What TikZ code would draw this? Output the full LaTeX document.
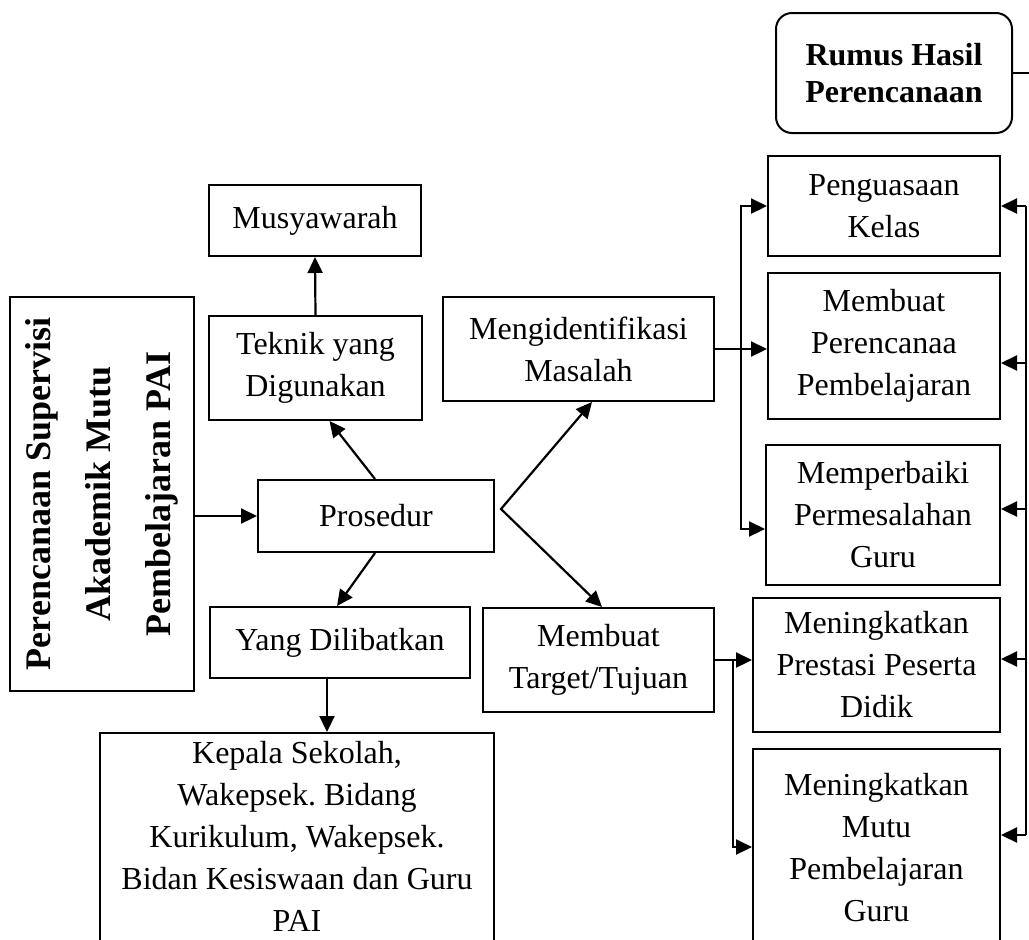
\documentclass[tikz,border=0pt]{standalone}
\usepackage{fontspec}
\setmainfont{Liberation Serif}
\usetikzlibrary{arrows.meta}
\frenchspacing

\tikzset{
  box/.style={draw, line width=1pt, align=center, inner sep=2pt,
    font=\fontsize{16}{21}\selectfont},
  tip/.tip={Triangle[length=8pt,width=7.5pt]},
  arr/.style={line width=1.1pt, -tip},
}

\begin{document}
\begin{tikzpicture}[x=0.5pt,y=-0.5pt]
\useasboundingbox (0,0) rectangle (1029,939);
\clip (0,0) rectangle (1029,939);

% left part
\node[box, rotate=90, minimum width=197pt, minimum height=92pt,
  font=\bfseries\fontsize{18}{30}\selectfont] (perenc) at (102,494)
  {Perencanaan Supervisi\\Akademik Mutu\\Pembelajaran PAI};
\node[box, minimum width=118pt, minimum height=36pt] (prosedur) at (376,516) {Prosedur};
\node[box, minimum width=106.5pt, minimum height=52pt] (teknik) at (315.5,368) {Teknik yang\\Digunakan};
\node[box, minimum width=106pt, minimum height=35.5pt] (musya) at (315,220.5) {Musyawarah};
\node[box, minimum width=130pt, minimum height=35.5pt] (yang) at (340,642.5) {Yang Dilibatkan};
\node[box, anchor=north, align=flush center, text width=190pt, inner xsep=3.5pt,
  inner ysep=4pt, text depth=100pt] (kepala) at (297,732)
  {Kepala Sekolah,\\Wakepsek. Bidang\\Kurikulum, Wakepsek.\\Bidan Kesiswaan dan Guru\\PAI};

% middle part
\node[box, minimum width=135.5pt, minimum height=52pt] (masalah) at (578.5,349) {Mengidentifikasi\\Masalah};
\node[box, minimum width=115.5pt, minimum height=52pt] (target) at (598.5,660) {Membuat\\Target/Tujuan};

% right part
\node[box, rounded corners=8pt, minimum width=118pt, minimum height=60pt,
  font=\bfseries\fontsize{16}{18.5}\selectfont] (rumus) at (894,73) {Rumus Hasil\\Perencanaan};
\node[box, minimum width=116pt, minimum height=50pt] (kelas) at (884,206) {Penguasaan\\Kelas};
\node[box, minimum width=116pt, minimum height=73pt] (plan) at (884,346) {Membuat\\Perencanaa\\Pembelajaran};
\node[box, minimum width=117pt, minimum height=70pt] (perbaiki) at (883,515) {Memperbaiki\\Permesalahan\\Guru};
\node[box, minimum width=123.5pt, minimum height=67pt] (prestasi) at (876.5,665) {Meningkatkan\\Prestasi Peserta\\Didik};
\node[box, anchor=north, align=flush center, text width=117.5pt, inner xsep=3pt,
  inner ysep=12pt, text depth=100pt] (mutu) at (876.5,748) {Meningkatkan\\Mutu\\Pembelajaran\\Guru};

% connectors
\draw[arr] (perenc.south |- prosedur.west) -- (prosedur.west);
\draw[arr] ([xshift=-0.5pt]prosedur.north) -- ([xshift=7pt]teknik.south);
\draw[arr] (teknik.north) -- (musya.south);
\draw[arr] ([xshift=-0.5pt]prosedur.south) -- ([xshift=-1.5pt]yang.north);
\coordinate (yangout) at ([xshift=-6.5pt]yang.south);
\draw[arr] (yangout) -- (yangout |- kepala.north);

\coordinate (fork) at ([shift={(3pt,3.5pt)}]prosedur.east);
\draw[arr, tip-tip] ([xshift=6.75pt]masalah.south) -- (fork) -- ([xshift=1.75pt]target.north);

\coordinate (busM) at ([xshift=13pt]masalah.east);
\coordinate (busT) at ([xshift=9pt]target.east);
\draw[arr] (masalah.east) -- (masalah.east -| plan.west);
\draw[arr] (busM) |- (kelas.west);
\draw[arr] (busM) |- ([yshift=-7pt]perbaiki.west);
\draw[arr] (target.east) -- (target.east -| prestasi.west);
\draw[arr] (busT) |- ([yshift=-49.5pt]mutu.north west);

% right bus
\coordinate (busR) at ([xshift=12.5pt]kelas.east);
\coordinate (rumusout) at ([xshift=20pt]rumus.east);
\coordinate (mutuin) at ([yshift=-43.5pt]mutu.north east);
\draw[line width=1.1pt] (rumus.east) -- (rumusout);
\draw[line width=1.1pt] (busR) -- (busR |- mutuin);
\foreach \n/\dy in {kelas/0, plan/-8.5, perbaiki/3, prestasi/3}{
  \coordinate (in) at ([yshift=\dy pt]\n.east);
  \draw[arr] (busR |- in) -- (in);
}
\draw[arr] (busR |- mutuin) -- (mutuin);
\end{tikzpicture}
\end{document}
